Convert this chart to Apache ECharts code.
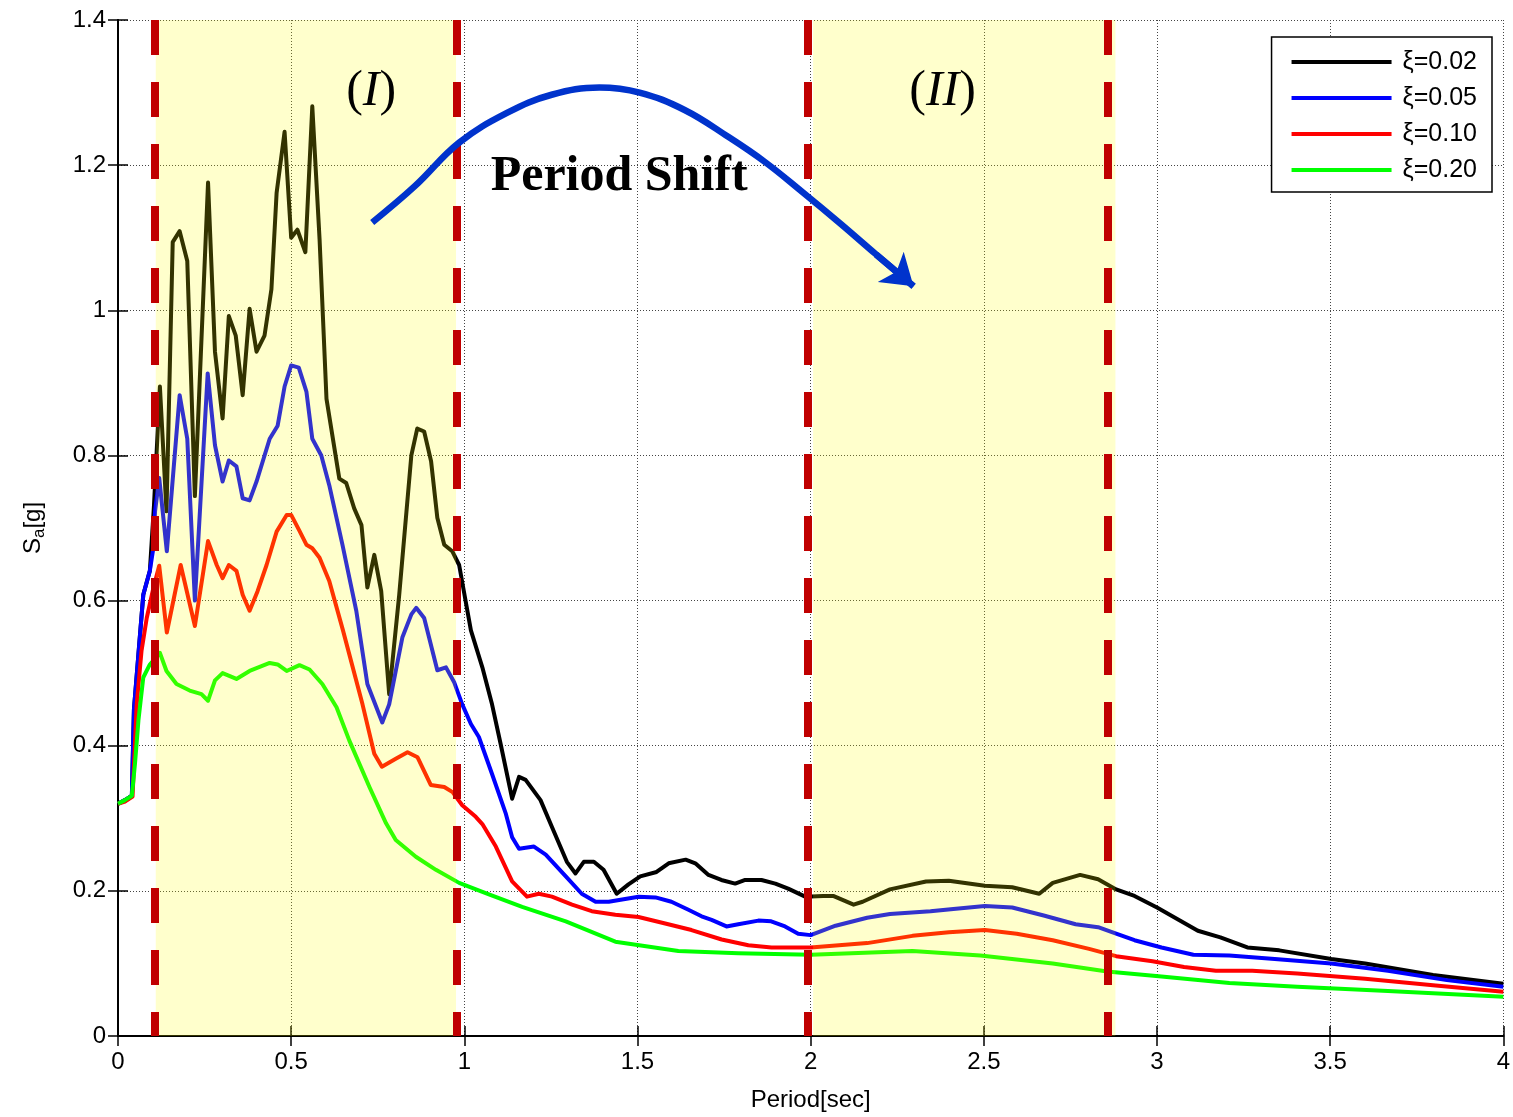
<!DOCTYPE html>
<html>
<head>
<meta charset="utf-8">
<script src="https://cdn.jsdelivr.net/npm/echarts@6.0.0/dist/echarts.min.js"></script>
<style>
  html, body { margin: 0; padding: 0; background: #fff; }
  #chart { width: 1513px; height: 1117px; }
</style>
</head>
<body>
<div id="chart"></div>
<script>
// period [sec] and Sa [g] for each damping ratio
const periodK02 = [0, 0.02, 0.04, 0.046, 0.059, 0.073, 0.092, 0.104, 0.121, 0.14, 0.158, 0.178, 0.2, 0.222, 0.26, 0.28, 0.302, 0.32, 0.34, 0.36, 0.38, 0.40, 0.423, 0.443, 0.458, 0.481, 0.50, 0.518, 0.541, 0.561, 0.582, 0.602, 0.639, 0.659, 0.682, 0.703, 0.72, 0.74, 0.76, 0.783, 0.812, 0.847, 0.864, 0.884, 0.904, 0.922, 0.942, 0.965, 0.985, 1.019, 1.052, 1.08, 1.105, 1.138, 1.158, 1.177, 1.22, 1.253, 1.296, 1.321, 1.345, 1.374, 1.402, 1.44, 1.474, 1.508, 1.555, 1.59, 1.639, 1.667, 1.705, 1.742, 1.782, 1.811, 1.858, 1.898, 1.935, 1.984, 2.036, 2.065, 2.124, 2.15, 2.229, 2.333, 2.399, 2.503, 2.582, 2.66, 2.699, 2.778, 2.83, 2.882, 2.935, 3.0, 3.052, 3.118, 3.183, 3.261, 3.353, 3.503, 3.601, 3.797, 4.0]
const saK02 = [0.32, 0.325, 0.331, 0.45, 0.526, 0.608, 0.641, 0.732, 0.895, 0.723, 1.094, 1.109, 1.068, 0.744, 1.176, 0.943, 0.851, 0.992, 0.965, 0.883, 1.002, 0.943, 0.965, 1.029, 1.162, 1.246, 1.10, 1.111, 1.08, 1.281, 1.098, 0.878, 0.768, 0.762, 0.727, 0.704, 0.618, 0.663, 0.613, 0.471, 0.608, 0.80, 0.837, 0.833, 0.792, 0.714, 0.677, 0.668, 0.649, 0.559, 0.508, 0.457, 0.402, 0.327, 0.357, 0.353, 0.325, 0.288, 0.240, 0.224, 0.240, 0.240, 0.229, 0.196, 0.209, 0.22, 0.226, 0.238, 0.243, 0.238, 0.222, 0.215, 0.21, 0.215, 0.215, 0.21, 0.203, 0.192, 0.193, 0.193, 0.181, 0.185, 0.202, 0.213, 0.214, 0.207, 0.205, 0.196, 0.211, 0.222, 0.216, 0.202, 0.193, 0.177, 0.163, 0.145, 0.136, 0.122, 0.118, 0.106, 0.10, 0.084, 0.072]

const periodK05 = [0, 0.02, 0.04, 0.046, 0.059, 0.073, 0.092, 0.102, 0.107, 0.119, 0.141, 0.178, 0.2, 0.222, 0.259, 0.28, 0.302, 0.32, 0.342, 0.36, 0.38, 0.40, 0.438, 0.461, 0.481, 0.5, 0.522, 0.544, 0.561, 0.587, 0.61, 0.648, 0.688, 0.72, 0.763, 0.783, 0.821, 0.847, 0.861, 0.884, 0.922, 0.947, 0.971, 0.994, 1.019, 1.042, 1.08, 1.12, 1.138, 1.158, 1.201, 1.235, 1.293, 1.339, 1.379, 1.417, 1.503, 1.552, 1.598, 1.647, 1.685, 1.714, 1.757, 1.791, 1.849, 1.886, 1.926, 1.964, 2.0, 2.072, 2.163, 2.229, 2.346, 2.412, 2.503, 2.582, 2.673, 2.765, 2.83, 2.882, 2.935, 3.013, 3.105, 3.209, 3.34, 3.503, 3.667, 3.837, 4.0]
const saK05 = [0.32, 0.325, 0.331, 0.45, 0.526, 0.608, 0.641, 0.672, 0.723, 0.769, 0.668, 0.883, 0.823, 0.600, 0.913, 0.814, 0.764, 0.793, 0.785, 0.741, 0.738, 0.764, 0.823, 0.841, 0.895, 0.924, 0.921, 0.888, 0.823, 0.80, 0.759, 0.677, 0.586, 0.485, 0.432, 0.457, 0.549, 0.581, 0.59, 0.576, 0.504, 0.508, 0.487, 0.457, 0.43, 0.412, 0.361, 0.306, 0.274, 0.258, 0.261, 0.25, 0.22, 0.196, 0.185, 0.185, 0.192, 0.191, 0.185, 0.174, 0.165, 0.16, 0.151, 0.154, 0.159, 0.158, 0.151, 0.141, 0.139, 0.152, 0.163, 0.168, 0.172, 0.175, 0.179, 0.177, 0.166, 0.154, 0.15, 0.141, 0.132, 0.122, 0.112, 0.111, 0.106, 0.10, 0.09, 0.077, 0.068]

const periodK10 = [0, 0.02, 0.042, 0.054, 0.068, 0.083, 0.102, 0.119, 0.141, 0.181, 0.222, 0.26, 0.285, 0.302, 0.32, 0.342, 0.36, 0.38, 0.403, 0.429, 0.458, 0.487, 0.50, 0.524, 0.544, 0.561, 0.582, 0.61, 0.649, 0.706, 0.74, 0.762, 0.802, 0.836, 0.865, 0.903, 0.942, 0.966, 0.994, 1.033, 1.052, 1.091, 1.138, 1.181, 1.215, 1.253, 1.311, 1.368, 1.436, 1.503, 1.58, 1.656, 1.743, 1.82, 1.887, 2.0, 2.163, 2.294, 2.399, 2.503, 2.595, 2.699, 2.804, 2.882, 2.987, 3.078, 3.17, 3.275, 3.405, 3.601, 3.797, 4.0]
const saK10 = [0.32, 0.323, 0.33, 0.457, 0.531, 0.576, 0.617, 0.648, 0.556, 0.649, 0.565, 0.682, 0.649, 0.631, 0.649, 0.641, 0.608, 0.586, 0.613, 0.649, 0.695, 0.718, 0.718, 0.696, 0.677, 0.672, 0.659, 0.627, 0.56, 0.457, 0.389, 0.371, 0.382, 0.391, 0.384, 0.346, 0.343, 0.336, 0.318, 0.302, 0.292, 0.261, 0.213, 0.192, 0.196, 0.192, 0.181, 0.172, 0.167, 0.164, 0.155, 0.146, 0.133, 0.125, 0.122, 0.122, 0.128, 0.138, 0.143, 0.146, 0.141, 0.132, 0.12, 0.11, 0.103, 0.095, 0.09, 0.09, 0.086, 0.079, 0.07, 0.061]

const periodK20 = [0, 0.02, 0.04, 0.049, 0.059, 0.073, 0.092, 0.121, 0.14, 0.169, 0.207, 0.241, 0.26, 0.28, 0.302, 0.342, 0.38, 0.438, 0.461, 0.487, 0.524, 0.553, 0.59, 0.631, 0.668, 0.726, 0.774, 0.802, 0.86, 0.918, 0.985, 1.071, 1.167, 1.293, 1.436, 1.618, 1.791, 2.0, 2.294, 2.49, 2.699, 2.856, 3.013, 3.209, 3.405, 3.667, 4.0]
const saK20 = [0.32, 0.325, 0.331, 0.375, 0.435, 0.494, 0.512, 0.528, 0.503, 0.485, 0.476, 0.471, 0.462, 0.49, 0.50, 0.492, 0.503, 0.514, 0.512, 0.503, 0.511, 0.505, 0.485, 0.453, 0.407, 0.343, 0.293, 0.27, 0.247, 0.229, 0.211, 0.195, 0.178, 0.158, 0.13, 0.117, 0.114, 0.112, 0.117, 0.111, 0.1, 0.089, 0.082, 0.073, 0.068, 0.062, 0.054]

const seriesNames = ['ξ=0.02', 'ξ=0.05', 'ξ=0.10', 'ξ=0.20']
const seriesColors = ['#000000', '#0000ff', '#ff0000', '#00ff00']

// shaded zones (I) and (II), and the dashed bounds around them
const zoneStart = [0.109, 2.007]
const zoneEnd = [0.976, 2.88]
const boundLines = [0.107, 0.979, 1.993, 2.857]

// "Period Shift" arrow path in data units
const arrowT = [0.734, 0.857, 0.985, 1.123, 1.252, 1.39, 1.506, 1.636, 1.762, 1.869, 1.976, 2.082, 2.189, 2.297]
const arrowSa = [1.121, 1.171, 1.231, 1.272, 1.297, 1.307, 1.30, 1.276, 1.239, 1.204, 1.163, 1.121, 1.077, 1.033]

const xTicks = { min: 0, max: 4, interval: 0.5 }
const yTicks = { min: 0, max: 1.4, interval: 0.2 }

const pairs = (xs, ys) => xs.map((x, i) => [x, ys[i]])

const chart = echarts.init(document.getElementById('chart'))
const sans = 'Liberation Sans, Arial, sans-serif'
const serif = 'Liberation Serif, Times New Roman, serif'

const curveData = [
  pairs(periodK02, saK02),
  pairs(periodK05, saK05),
  pairs(periodK10, saK10),
  pairs(periodK20, saK20)
]

const arrowPts = pairs(arrowT, arrowSa)

const axisCommon = {
  axisLine: { show: true, lineStyle: { color: '#000', width: 2 } },
  axisTick: { show: true, inside: true, length: 10, lineStyle: { color: '#000', width: 1.5 } }
}

const option = {
  animation: false,
  backgroundColor: '#fff',
  grid: { left: 118, right: 6, top: 20, bottom: 77 },
  legend: {
    data: seriesNames,
    orient: 'vertical',
    right: 21,
    top: 37,
    icon: 'rect',
    itemWidth: 100,
    itemHeight: 4,
    itemGap: 8,
    padding: [11, 15, 8, 20],
    backgroundColor: '#fff',
    borderColor: '#000',
    borderWidth: 1.5,
    textStyle: { fontFamily: sans, fontSize: 25, color: '#000', lineHeight: 28, padding: [0, 0, 0, 6] }
  },
  xAxis: [
    {
      type: 'value', position: 'bottom', ...xTicks,
      ...axisCommon,
      name: 'Period[sec]', nameLocation: 'middle', nameGap: 52,
      nameTextStyle: { fontFamily: sans, fontSize: 24, color: '#000' },
      axisLabel: { fontFamily: sans, fontSize: 24, color: '#000', margin: 14 },
      splitLine: { show: true, lineStyle: { color: '#444', type: [1, 2], width: 1 } }
    },
    {
      type: 'value', position: 'top', ...xTicks,
      ...axisCommon,
      axisLabel: { show: false },
      splitLine: { show: false }
    }
  ],
  yAxis: [
    {
      type: 'value', position: 'left', ...yTicks,
      ...axisCommon,
      name: '{s|S}{sub|a}{s|[g]}', nameLocation: 'middle', nameGap: 70, nameRotate: 90,
      nameTextStyle: {
        fontFamily: sans, color: '#000',
        rich: {
          s: { fontFamily: sans, fontSize: 24, color: '#000', lineHeight: 30, verticalAlign: 'middle' },
          sub: { fontFamily: sans, fontSize: 17, color: '#000', lineHeight: 30, verticalAlign: 'bottom', padding: [14, 0, 0, 0] }
        }
      },
      axisLabel: { fontFamily: sans, fontSize: 24, color: '#000', margin: 12 },
      splitLine: { show: true, lineStyle: { color: '#444', type: [1, 2], width: 1 } }
    },
    {
      type: 'value', position: 'right', ...yTicks,
      ...axisCommon,
      axisLabel: { show: false },
      splitLine: { show: false }
    }
  ],
  series: [
    ...seriesNames.map((name, i) => ({
      name,
      type: 'line',
      data: curveData[i],
      showSymbol: false,
      symbol: 'none',
      color: seriesColors[i],
      lineStyle: { color: seriesColors[i], width: 4, join: 'round' },
      z: 2
    })),
    {
      // dashed zone bounds
      name: 'bounds',
      type: 'line',
      data: [],
      z: 3,
      markLine: {
        silent: true,
        symbol: 'none',
        label: { show: false },
        lineStyle: { color: '#c00000', width: 8, type: [35, 27], opacity: 1 },
        data: boundLines.map(t => [{ coord: [t, yTicks.max] }, { coord: [t, yTicks.min] }])
      }
    },
    {
      // translucent yellow shading laid over the curves and bounds
      name: 'zones',
      type: 'custom',
      data: zoneStart.map((t, i) => [t, zoneEnd[i]]),
      encode: { x: [0, 1] },
      clip: true,
      silent: true,
      z: 4,
      renderItem: (params, api) => {
        const a = api.coord([api.value(0), yTicks.max])
        const b = api.coord([api.value(1), yTicks.min])
        return {
          type: 'rect',
          shape: { x: a[0], y: a[1], width: b[0] - a[0], height: b[1] - a[1] },
          style: { fill: 'rgba(255,255,0,0.2)' }
        }
      }
    },
    {
      name: 'shift',
      type: 'line',
      data: arrowPts,
      smooth: 0.4,
      showSymbol: false,
      symbol: 'none',
      lineStyle: { color: '#0033cc', width: 6.5 },
      z: 5
    },
    {
      name: 'shiftHead',
      type: 'lines',
      coordinateSystem: 'cartesian2d',
      symbol: ['none', 'arrow'],
      symbolSize: 30,
      lineStyle: { color: '#0033cc', width: 6.5, opacity: 1 },
      data: [{ coords: arrowPts.slice(-2) }],
      z: 5
    }
  ]
}

chart.setOption(option)

// annotations anchored at data positions
const notes = [
  { at: [0.731, 1.301], text: '{p|(}{i|I}{p|)}' },
  { at: [2.381, 1.301], text: '{p|(}{i|II}{p|)}' },
  { at: [1.447, 1.183], text: '{b|Period Shift}' }
]
const rich = {
  p: { fontFamily: serif, fontSize: 50, color: '#000' },
  i: { fontFamily: serif, fontSize: 50, fontStyle: 'italic', color: '#000' },
  b: { fontFamily: serif, fontSize: 50, fontWeight: 'bold', color: '#000' }
}
chart.setOption({
  graphic: notes.map(n => {
    const [px, py] = chart.convertToPixel({ xAxisIndex: 0, yAxisIndex: 0 }, n.at)
    return {
      type: 'text', x: px, y: py, z: 100,
      style: { text: n.text, rich, align: 'center', verticalAlign: 'middle' }
    }
  })
})

window.addEventListener('resize', () => chart.resize())
</script>
</body>
</html>
